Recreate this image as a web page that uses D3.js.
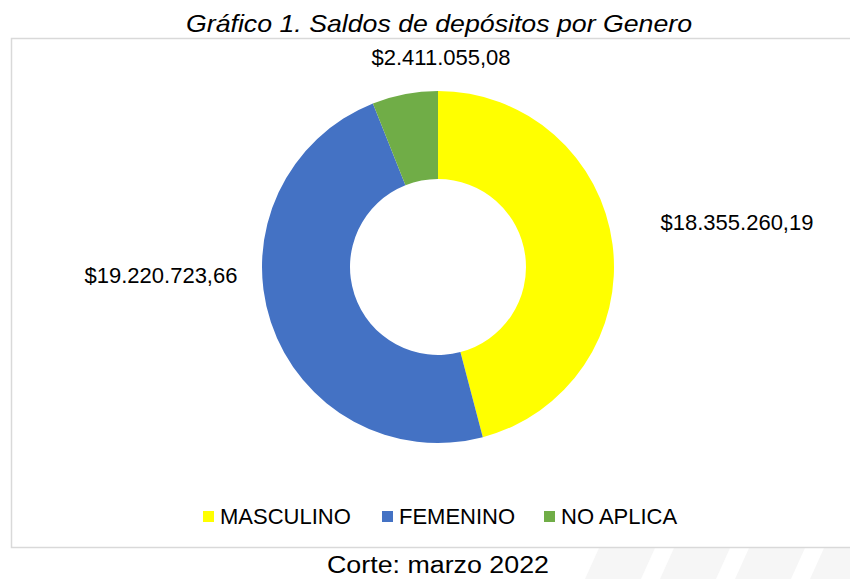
<!DOCTYPE html>
<html>
<head>
<meta charset="utf-8">
<script src="https://cdn.jsdelivr.net/npm/d3@7"></script>
<style>
	body { margin: 0; background: #fff; }
	svg { display: block; font-family: "Liberation Sans", Arial, sans-serif; }
</style>
</head>
<body>
<div id="chart"></div>
<script>
// data
var categories = ["MASCULINO", "FEMENINO", "NO APLICA"]
var saldos = [18355260.19, 19220723.66, 2411055.08]
var colors = ["#FFFF00", "#4472C4", "#70AD47"]

var title = "Gráfico 1. Saldos de depósitos por Genero"
var footer = "Corte: marzo 2022"

// layout
var width = 850
var height = 579
var cx = 438
var cy = 267
var outerR = 176
var innerR = 88
// where excel dropped each data label, relative to the donut centre
var labelNudge = { "MASCULINO": [299, -37], "FEMENINO": [-277, 16], "NO APLICA": [3, -202] }

var svg = d3.select("#chart").append("svg")
	.attr("width", width)
	.attr("height", height)

// faint watermark stripes under the frame
var stripes = svg.append("g").attr("fill", "#f6f6f6")
var stripeX = [585, 660, 735, 810]
stripeX.forEach(function(x) {
	stripes.append("path")
		.attr("d", "M" + x + ",579 L" + (x + 14) + ",548 L" + (x + 70) + ",548 L" + (x + 56) + ",579 Z")
})

// chart frame
svg.append("rect")
	.attr("x", 11.5)
	.attr("y", 38.5)
	.attr("width", 850)
	.attr("height", 509)
	.attr("fill", "#fff")
	.attr("stroke", "#d9d9d9")
	.attr("stroke-width", 1.5)

svg.append("text")
	.attr("x", 439)
	.attr("y", 32)
	.attr("text-anchor", "middle")
	.attr("font-size", 24)
	.attr("font-style", "italic")
	.attr("textLength", 506)
	.attr("lengthAdjust", "spacingAndGlyphs")
	.attr("fill", "#000")
	.text(title)

svg.append("text")
	.attr("x", 438)
	.attr("y", 573)
	.attr("text-anchor", "middle")
	.attr("font-size", 23)
	.attr("textLength", 222)
	.attr("lengthAdjust", "spacingAndGlyphs")
	.attr("fill", "#000")
	.text(footer)

var pie = d3.pie().sort(null).value(function(d) { return d })
var arc = d3.arc().innerRadius(innerR).outerRadius(outerR)
var slices = pie(saldos)

var donut = svg.append("g")
	.attr("transform", "translate(" + cx + "," + cy + ")")

donut.selectAll("path")
	.data(slices)
	.enter().append("path")
	.attr("d", arc)
	.attr("fill", function(d, i) { return colors[i] })

var fmt = d3.formatLocale({ decimal: ",", thousands: ".", grouping: [3], currency: ["$", ""] }).format("$,.2f")

donut.selectAll("text.value")
	.data(slices)
	.enter().append("text")
	.attr("class", "value")
	.attr("x", function(d, i) { return labelNudge[categories[i]][0] })
	.attr("y", function(d, i) { return labelNudge[categories[i]][1] })
	.attr("text-anchor", "middle")
	.attr("font-size", 22)
	.attr("fill", "#000")
	.text(function(d) { return fmt(d.value) })

// legend
var legendX = [203, 382, 544]
var legend = svg.append("g")
legend.selectAll("rect")
	.data(categories)
	.enter().append("rect")
	.attr("x", function(d, i) { return legendX[i] })
	.attr("y", 511)
	.attr("width", 11)
	.attr("height", 11)
	.attr("fill", function(d, i) { return colors[i] })

legend.selectAll("text")
	.data(categories)
	.enter().append("text")
	.attr("x", function(d, i) { return legendX[i] + 17 })
	.attr("y", 524)
	.attr("font-size", 22)
	.attr("fill", "#000")
	.text(function(d) { return d })
</script>
</body>
</html>
